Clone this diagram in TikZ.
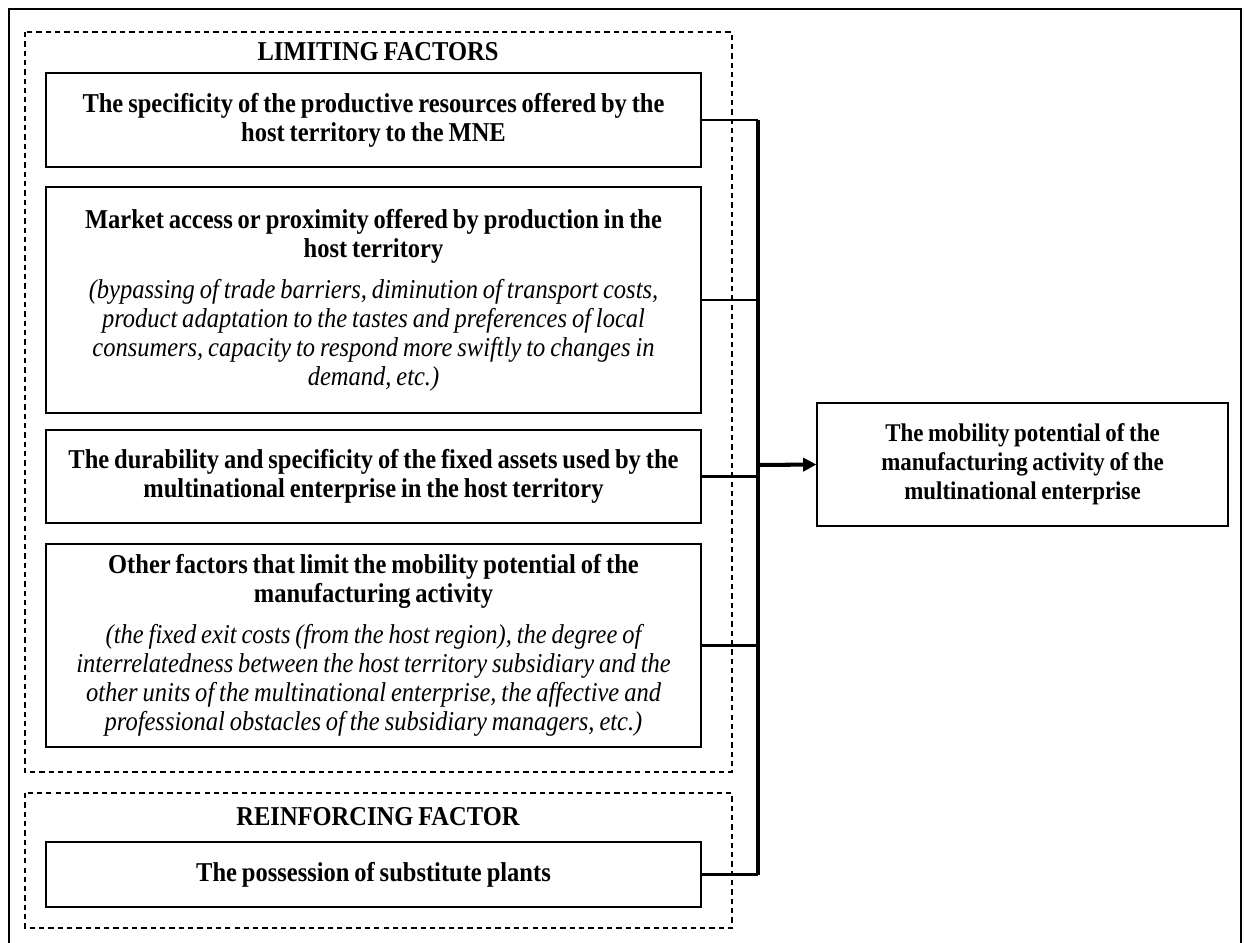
\documentclass[tikz,border=0pt]{standalone}
\usepackage{fontspec}
\setmainfont{Liberation Serif}[FakeStretch=0.9, WordSpace=0.8]
\usetikzlibrary{arrows.meta}
\begin{document}
\begin{tikzpicture}[x=0.02cm, y=-0.02cm,
    font=\fontsize{15.5}{16.5}\selectfont,
    factor/.style={draw, line width=0.8pt, align=flush center, text width=12.9cm,
      minimum width=13.1cm, inner sep=0pt},
    group/.style={draw, dash pattern=on 3pt off 2.3pt, line width=0.6pt},
    grouptitle/.style={font=\fontsize{15.5}{16.5}\selectfont\bfseries},
    link/.style={line width=1.7pt},
    bus/.style={line width=2.3pt}]
  \useasboundingbox (0,0) rectangle (1244,943);
  \draw[line width=1.2pt] (9,950) -- (9,9) -- (1241,9) -- (1241,950);

  % the two groups of factors
  \draw[group] (25,32) rectangle (732,772);
  \draw[group] (25,793) rectangle (732,928);
  \node[grouptitle] (limiting) at (378,52) {LIMITING FACTORS};
  \node[grouptitle] (reinforcing) at (378,817) {REINFORCING FACTOR};

  \node[factor, minimum height=1.88cm] (resources) at (373.5,120)
    {\bfseries The specificity of the productive resources offered by the\\
     host territory to the MNE};
  \node[factor, minimum height=4.52cm] (market) at (373.5,300)
    {{\bfseries Market access or proximity offered by production in the\\
      host territory}\\[7pt]
     {\itshape (bypassing of trade barriers, diminution of transport costs,\\
      product adaptation to the tastes and preferences of local\\
      consumers, capacity to respond more swiftly to changes in\\
      demand, etc.)}};
  \node[factor, minimum height=1.86cm] (assets) at (373.5,476.5)
    {\bfseries The durability and specificity of the fixed assets used by the\\
     multinational enterprise in the host territory};
  \node[factor, minimum height=4.06cm] (others) at (373.5,645.5)
    {{\bfseries Other factors that limit the mobility potential of the\\
      manufacturing activity}\\[7pt]
     {\itshape (the fixed exit costs (from the host region), the degree of\\
      interrelatedness between the host territory subsidiary and the\\
      other units of the multinational enterprise, the affective and\\
      professional obstacles of the subsidiary managers, etc.)}};
  \node[factor, minimum height=1.3cm] (plants) at (373.5,874.5)
    {\bfseries The possession of substitute plants};

  \node[factor, font=\fontsize{14.5}{16.5}\selectfont, text width=7.9cm,
    minimum width=8.22cm, minimum height=2.46cm] (mobility) at (1022.5,464.5)
    {\bfseries The mobility potential of the\\
     manufacturing activity of the\\
     multinational enterprise};

  % connectors to the bus
  \coordinate (join) at (758,465);
  \foreach \f in {resources, market, assets, others, plants}
    \draw[link] (\f.east) -- (\f.east -| join);
  \draw[bus] (resources.east -| join) -- (plants.east -| join);
  \draw[bus, -{Triangle[length=7.5pt, width=7.5pt]}] (join) -- (mobility.west);
\end{tikzpicture}
\end{document}
